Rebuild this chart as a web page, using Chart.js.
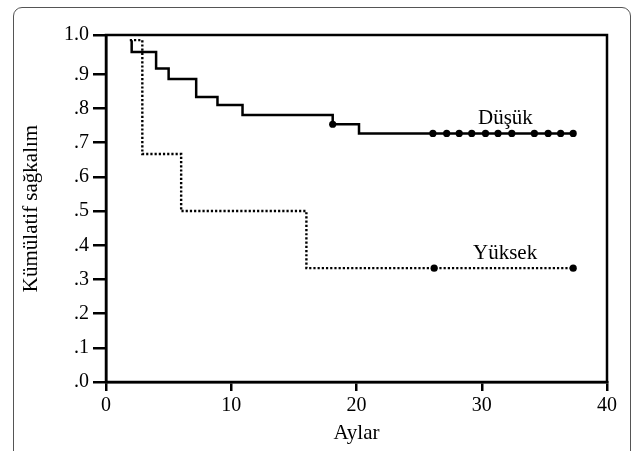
<!DOCTYPE html>
<html>
<head>
<meta charset="utf-8">
<script src="https://cdn.jsdelivr.net/npm/chart.js@4.4.1/dist/chart.umd.min.js"></script>
<style>
  html, body { margin: 0; padding: 0; background: #fff; }
  #wrap { position: relative; width: 640px; height: 451px; overflow: hidden; }
  #frame {
    position: absolute; left: 13px; top: 7px; width: 618px; height: 480px;
    border: 1.5px solid #555; border-radius: 9px; box-sizing: border-box;
  }
  canvas { position: absolute; left: 0; top: 0; }
</style>
</head>
<body>
<div id="wrap">
  <div id="frame"></div>
  <canvas id="kmChart" width="640" height="451"></canvas>
</div>
<script>
// Düşük grup (düz çizgi)
const lowTimes = [2.05, 2.05, 4.0, 5.0, 7.2, 8.9, 10.9, 18.1, 20.2, 37.3];
const lowSurvival = [1.0, 0.965, 0.917, 0.886, 0.834, 0.810, 0.781, 0.754, 0.727, 0.727];
const lowCensorTimes = [18.1, 26.1, 27.2, 28.2, 29.2, 30.3, 31.3, 32.4, 34.2, 35.3, 36.3, 37.3];
const lowCensorSurvival = [0.754, 0.727, 0.727, 0.727, 0.727, 0.727, 0.727, 0.727, 0.727, 0.727, 0.727, 0.727];

// Yüksek grup (noktalı çizgi)
const highTimes = [1.9, 2.9, 6.0, 16.0, 37.3];
const highSurvival = [1.0, 0.667, 0.5, 0.333, 0.333];
const highCensorTimes = [26.2, 37.3];
const highCensorSurvival = [0.333, 0.333];

const xTicks = [0, 10, 20, 30, 40];
// the top label "1.0" sits on the frame, a little above the 1.0 level
const yTickValues = [0, 0.1, 0.2, 0.3, 0.4, 0.5, 0.6, 0.7, 0.8, 0.9, 1.015];
const yTickLabels = ['.0', '.1', '.2', '.3', '.4', '.5', '.6', '.7', '.8', '.9', '1.0'];

const curveLabels = [
    { text: 'Düşük', x: 29.7, y: 0.772 },
    { text: 'Yüksek', x: 29.3, y: 0.377 },
];

const FONT = 'Liberation Serif, Times New Roman, serif';

const toPoints = (xs, ys) => xs.map((x, i) => ({ x: x, y: ys[i] }));

const framePlugin = {
    id: 'frame',
    afterDraw(chart) {
        const { ctx, chartArea: a } = chart;
        ctx.save();
        ctx.strokeStyle = '#000';
        ctx.lineWidth = 2.5;
        ctx.strokeRect(a.left, a.top, a.right - a.left, a.bottom - a.top);
        ctx.restore();
    },
};

const labelPlugin = {
    id: 'curveLabels',
    afterDatasetsDraw(chart) {
        const { ctx, scales } = chart;
        ctx.save();
        ctx.fillStyle = '#000';
        ctx.font = '21px ' + FONT;
        ctx.textAlign = 'left';
        ctx.textBaseline = 'middle';
        curveLabels.forEach(l => {
            ctx.fillText(l.text, scales.x.getPixelForValue(l.x), scales.y.getPixelForValue(l.y));
        });
        ctx.restore();
    },
};

const config = {
    type: 'line',
    data: {
        datasets: [
            {
                label: 'Düşük',
                data: toPoints(lowTimes, lowSurvival),
                stepped: 'before',
                borderColor: '#000',
                borderWidth: 2.5,
                pointRadius: 0,
                fill: false,
            },
            {
                label: 'Yüksek',
                data: toPoints(highTimes, highSurvival),
                stepped: 'before',
                borderColor: '#000',
                borderWidth: 2.4,
                borderDash: [2.2, 2],
                pointRadius: 0,
                fill: false,
            },
            {
                label: 'Düşük sansür',
                data: toPoints(lowCensorTimes, lowCensorSurvival),
                showLine: false,
                pointRadius: 3.6,
                pointBackgroundColor: '#000',
                pointBorderWidth: 0,
            },
            {
                label: 'Yüksek sansür',
                data: toPoints(highCensorTimes, highCensorSurvival),
                showLine: false,
                pointRadius: 3.6,
                pointBackgroundColor: '#000',
                pointBorderWidth: 0,
            },
        ],
    },
    options: {
        responsive: false,
        animation: false,
        layout: { padding: { left: 0, right: 33, top: 35, bottom: 0 } },
        plugins: {
            legend: { display: false },
            tooltip: { enabled: false },
        },
        scales: {
            x: {
                type: 'linear',
                min: 0,
                max: 40,
                afterBuildTicks: scale => { scale.ticks = xTicks.map(v => ({ value: v })); },
                afterFit: scale => { scale.height = 69; },
                grid: { drawOnChartArea: false, color: '#000', lineWidth: 2.5, tickLength: 9 },
                border: { display: true, color: '#000', width: 2.5 },
                ticks: { color: '#000', font: { family: FONT, size: 20 }, padding: 3, maxRotation: 0 },
                title: {
                    display: true,
                    text: 'Aylar',
                    color: '#000',
                    font: { family: FONT, size: 21 },
                    padding: { top: 0, bottom: 5 },
                },
            },
            y: {
                type: 'linear',
                min: 0,
                max: 1.015,
                afterBuildTicks: scale => { scale.ticks = yTickValues.map(v => ({ value: v })); },
                afterFit: scale => { scale.width = 106; },
                grid: { drawOnChartArea: false, color: '#000', lineWidth: 2.5, tickLength: 13 },
                border: { display: true, color: '#000', width: 2.5 },
                ticks: {
                    color: '#000',
                    font: { family: FONT, size: 20 },
                    padding: 4,
                    callback: (v, i) => yTickLabels[i],
                },
                title: {
                    display: true,
                    text: 'Kümülatif sağkalım',
                    color: '#000',
                    font: { family: FONT, size: 21 },
                    padding: { top: 19, bottom: 0 },
                },
            },
        },
    },
    plugins: [framePlugin, labelPlugin],
};

const ctx = document.getElementById('kmChart').getContext('2d');
new Chart(ctx, config);
</script>
</body>
</html>
